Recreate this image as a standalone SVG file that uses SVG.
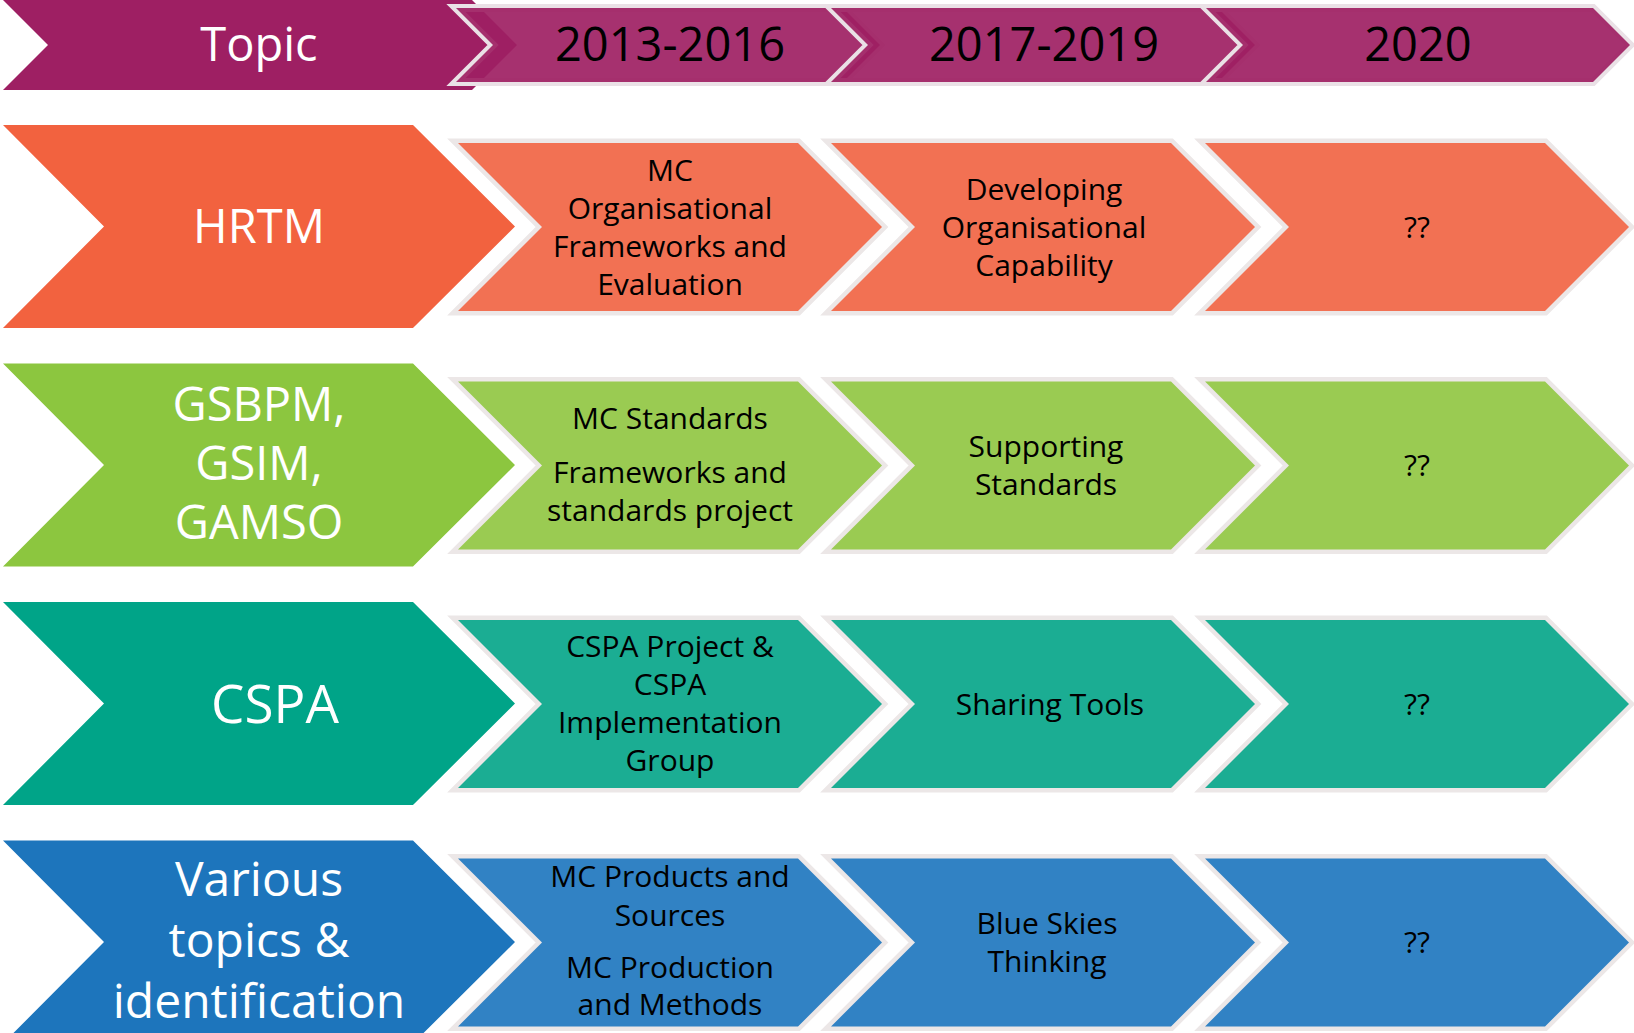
<svg xmlns="http://www.w3.org/2000/svg" width="1634" height="1033" viewBox="0 0 1634 1033">
<style>
text{font-family:"Open Sans","Noto Sans","Liberation Sans",sans-serif;text-anchor:middle}
.hd{font-size:47px;fill:#000}
.tp{font-size:47px;fill:#fff}
.lb{font-size:47px;fill:#fff}
.sm{font-size:30px;fill:#000}
.hglow{stroke:#EAE1E6;stroke-width:8;stroke-linejoin:miter;paint-order:stroke}
.glow{stroke:#ECE7E7;stroke-width:9;stroke-linejoin:miter;paint-order:stroke}
.hch{fill:#9E1F63;fill-opacity:0.92}
.or1{fill:#F2623F}.or2{fill:#F27153}
.gr1{fill:#8CC63F}.gr2{fill:#9ACB52}
.te1{fill:#00A488}.te2{fill:#1BAD93}
.bl1{fill:#1D75BC}.bl2{fill:#3182C4}
</style>
<rect width="1634" height="1033" fill="#fff"/>
<g id="connectors"/>
<!-- header -->
<g id="topic">
<polygon points="3,0 472,0 517,45 472,90 3,90 48,45" fill="#9E1F63"/>
<text class="tp" x="259" y="61">Topic</text>
</g>
<g id="h2013">
<polygon class="hch hglow" points="456,8 843,8 880,45 843,82 456,82 493,45"/>
<text class="hd" x="670" y="61">2013-2016</text>
</g>
<g id="h2017">
<polygon class="hch hglow" points="831,8 1218,8 1255,45 1218,82 831,82 868,45"/>
<text class="hd" x="1044" y="61">2017-2019</text>
</g>
<g id="h2020">
<polygon class="hch hglow" points="1206,8 1593,8 1630,45 1593,82 1206,82 1243,45"/>
<text class="hd" x="1418" y="61">2020</text>
</g>
<!-- row 1 HRTM -->
<g id="hrtm">
<polygon class="or1" points="3,125 413,125 515,226.5 413,328 3,328 104,226.5"/>
<text class="lb" x="259" y="243">HRTM</text>
</g>
<g id="hrtm-2013">
<polygon class="or2 glow" points="458,143 798,143 882,227 798,311 458,311 542,227"/>
<text class="sm" x="670"><tspan x="670" y="181">MC</tspan><tspan x="670" y="219">Organisational</tspan><tspan x="670" y="257">Frameworks and</tspan><tspan x="670" y="295">Evaluation</tspan></text>
</g>
<g id="hrtm-2017">
<polygon class="or2 glow" points="831,143 1171,143 1255,227 1171,311 831,311 915,227"/>
<text class="sm" x="1044"><tspan x="1044" y="200">Developing</tspan><tspan x="1044" y="238">Organisational</tspan><tspan x="1044" y="276">Capability</tspan></text>
</g>
<g id="hrtm-2020">
<polygon class="or2 glow" points="1205,143 1545,143 1629,227 1545,311 1205,311 1289,227"/>
<text class="sm" x="1417" y="238">??</text>
</g>
<!-- row 2 GSBPM -->
<g id="gsbpm">
<polygon class="gr1" points="3,363.5 413,363.5 515,465 413,566.5 3,566.5 104,465"/>
<text class="lb" x="259"><tspan x="259" y="421">GSBPM,</tspan><tspan x="259" y="480">GSIM,</tspan><tspan x="259" y="539">GAMSO</tspan></text>
</g>
<g id="gsbpm-2013">
<polygon class="gr2 glow" points="458,381.5 798,381.5 882,465.5 798,549.5 458,549.5 542,465.5"/>
<text class="sm" x="670"><tspan x="670" y="429">MC Standards</tspan><tspan x="670" y="483">Frameworks and</tspan><tspan x="670" y="521">standards project</tspan></text>
</g>
<g id="gsbpm-2017">
<polygon class="gr2 glow" points="831,381.5 1171,381.5 1255,465.5 1171,549.5 831,549.5 915,465.5"/>
<text class="sm" x="1046"><tspan x="1046" y="457">Supporting</tspan><tspan x="1046" y="495">Standards</tspan></text>
</g>
<g id="gsbpm-2020">
<polygon class="gr2 glow" points="1205,381.5 1545,381.5 1629,465.5 1545,549.5 1205,549.5 1289,465.5"/>
<text class="sm" x="1417" y="476">??</text>
</g>
<!-- row 3 CSPA -->
<g id="cspa">
<polygon class="te1" points="3,602 413,602 515,703.5 413,805 3,805 104,703.5"/>
<text class="lb" x="275" y="723" style="font-size:53px">CSPA</text>
</g>
<g id="cspa-2013">
<polygon class="te2 glow" points="458,620 798,620 882,704 798,788 458,788 542,704"/>
<text class="sm" x="670"><tspan x="670" y="657">CSPA Project &amp;</tspan><tspan x="670" y="695">CSPA</tspan><tspan x="670" y="733">Implementation</tspan><tspan x="670" y="771">Group</tspan></text>
</g>
<g id="cspa-2017">
<polygon class="te2 glow" points="831,620 1171,620 1255,704 1171,788 831,788 915,704"/>
<text class="sm" x="1050" y="715">Sharing Tools</text>
</g>
<g id="cspa-2020">
<polygon class="te2 glow" points="1205,620 1545,620 1629,704 1545,788 1205,788 1289,704"/>
<text class="sm" x="1417" y="715">??</text>
</g>
<!-- row 4 Various -->
<g id="various">
<polygon class="bl1" points="3,840.5 413,840.5 515,942 413,1043.5 3,1043.5 104,942"/>
<text class="lb" x="259" style="font-size:48px"><tspan x="259" y="896">Various</tspan><tspan x="259" y="957">topics &amp;</tspan><tspan x="259" y="1018">identification</tspan></text>
</g>
<g id="various-2013">
<polygon class="bl2 glow" points="458,858.5 798,858.5 882,942.5 798,1026.5 458,1026.5 542,942.5"/>
<text class="sm" x="670"><tspan x="670" y="887">MC Products and</tspan><tspan x="670" y="926">Sources</tspan><tspan x="670" y="978">MC Production</tspan><tspan x="670" y="1015">and Methods</tspan></text>
</g>
<g id="various-2017">
<polygon class="bl2 glow" points="831,858.5 1171,858.5 1255,942.5 1171,1026.5 831,1026.5 915,942.5"/>
<text class="sm" x="1047"><tspan x="1047" y="934">Blue Skies</tspan><tspan x="1047" y="972">Thinking</tspan></text>
</g>
<g id="various-2020">
<polygon class="bl2 glow" points="1205,858.5 1545,858.5 1629,942.5 1545,1026.5 1205,1026.5 1289,942.5"/>
<text class="sm" x="1417" y="953">??</text>
</g>
</svg>
